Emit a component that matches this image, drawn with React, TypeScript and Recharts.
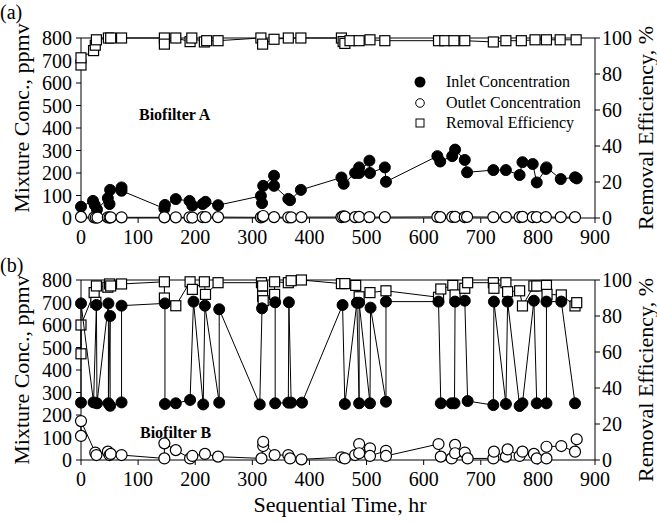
import React from "react";
import {
  ScatterChart,
  Scatter,
  XAxis,
  YAxis,
  ReferenceLine,
} from "recharts";

// sequential time (hr) / value pairs
const inletA = [
  { t: 0, v: 50 }, { t: 21, v: 76 }, { t: 24, v: 58 }, { t: 28, v: 38 },
  { t: 47, v: 88 }, { t: 50, v: 62 }, { t: 51, v: 125 }, { t: 71, v: 136 },
  { t: 71, v: 121 }, { t: 146, v: 42 }, { t: 147, v: 58 }, { t: 166, v: 84 },
  { t: 190, v: 76 }, { t: 195, v: 55 }, { t: 213, v: 62 }, { t: 218, v: 72 },
  { t: 240, v: 57 }, { t: 315, v: 98 }, { t: 317, v: 66 }, { t: 319, v: 143 },
  { t: 338, v: 188 }, { t: 338, v: 143 }, { t: 363, v: 85 }, { t: 366, v: 79 },
  { t: 385, v: 125 }, { t: 456, v: 180 }, { t: 460, v: 152 }, { t: 480, v: 200 },
  { t: 487, v: 225 }, { t: 487, v: 200 }, { t: 505, v: 255 }, { t: 506, v: 200 },
  { t: 532, v: 225 }, { t: 534, v: 161 }, { t: 624, v: 275 }, { t: 629, v: 251 },
  { t: 650, v: 275 }, { t: 655, v: 304 }, { t: 672, v: 258 }, { t: 676, v: 203 },
  { t: 722, v: 213 }, { t: 744, v: 213 }, { t: 768, v: 191 }, { t: 773, v: 248 },
  { t: 791, v: 240 }, { t: 798, v: 158 }, { t: 814, v: 218 }, { t: 815, v: 225 },
  { t: 840, v: 173 }, { t: 865, v: 181 }, { t: 868, v: 176 },
];

const outletA = [
  { t: 0, v: 5 }, { t: 23, v: 3 }, { t: 26, v: 2 }, { t: 29, v: 2 },
  { t: 47, v: 3 }, { t: 50, v: 2 }, { t: 52, v: 3 }, { t: 71, v: 3 },
  { t: 146, v: 3 }, { t: 166, v: 3 }, { t: 190, v: 3 }, { t: 195, v: 2 },
  { t: 213, v: 4 }, { t: 218, v: 4 }, { t: 240, v: 4 }, { t: 315, v: 3 },
  { t: 318, v: 6 }, { t: 319, v: 9 }, { t: 338, v: 4 }, { t: 363, v: 3 },
  { t: 368, v: 3 }, { t: 386, v: 4 }, { t: 456, v: 4 }, { t: 459, v: 7 },
  { t: 462, v: 6 }, { t: 480, v: 4 }, { t: 487, v: 5 }, { t: 505, v: 4 },
  { t: 532, v: 4 }, { t: 624, v: 5 }, { t: 629, v: 4 }, { t: 650, v: 5 },
  { t: 655, v: 5 }, { t: 672, v: 4 }, { t: 676, v: 5 }, { t: 722, v: 4 },
  { t: 744, v: 4 }, { t: 768, v: 4 }, { t: 773, v: 5 }, { t: 791, v: 4 },
  { t: 798, v: 4 }, { t: 814, v: 4 }, { t: 840, v: 4 }, { t: 865, v: 4 },
];

const removalA = [
  { t: 0, v: 85 }, { t: 0, v: 89 }, { t: 22, v: 93 }, { t: 25, v: 96 },
  { t: 27, v: 99 }, { t: 48, v: 100 }, { t: 52, v: 100 }, { t: 71, v: 100 },
  { t: 146, v: 100 }, { t: 146, v: 96.6 }, { t: 166, v: 100 }, { t: 191, v: 98 },
  { t: 194, v: 100 }, { t: 216, v: 97.8 }, { t: 220, v: 98.5 }, { t: 240, v: 98.5 },
  { t: 315, v: 100 }, { t: 318, v: 96.6 }, { t: 338, v: 99.3 }, { t: 363, v: 100 },
  { t: 385, v: 100 }, { t: 456, v: 100 }, { t: 459, v: 98 }, { t: 462, v: 97 },
  { t: 471, v: 98.5 }, { t: 487, v: 98.5 }, { t: 506, v: 99 }, { t: 532, v: 98.5 },
  { t: 626, v: 98.5 }, { t: 637, v: 98.5 }, { t: 653, v: 98.5 }, { t: 672, v: 98.5 },
  { t: 722, v: 97.8 }, { t: 744, v: 98.5 }, { t: 771, v: 98.5 }, { t: 795, v: 99 },
  { t: 815, v: 99 }, { t: 839, v: 99 }, { t: 867, v: 99 },
];

const inletB = [
  { t: 0, v: 255 }, { t: 0, v: 696 }, { t: 22, v: 256 }, { t: 27, v: 689 },
  { t: 28, v: 252 }, { t: 48, v: 696 }, { t: 48, v: 252 }, { t: 51, v: 640 },
  { t: 51, v: 241 }, { t: 71, v: 256 }, { t: 71, v: 686 }, { t: 147, v: 696 },
  { t: 147, v: 249 }, { t: 166, v: 252 }, { t: 191, v: 267 }, { t: 197, v: 704 },
  { t: 214, v: 247 }, { t: 217, v: 686 }, { t: 242, v: 255 }, { t: 242, v: 670 },
  { t: 313, v: 247 }, { t: 317, v: 674 }, { t: 340, v: 701 }, { t: 340, v: 252 },
  { t: 363, v: 255 }, { t: 364, v: 701 }, { t: 368, v: 255 }, { t: 387, v: 255 },
  { t: 458, v: 689 }, { t: 462, v: 249 }, { t: 483, v: 699 }, { t: 487, v: 252 },
  { t: 487, v: 699 }, { t: 506, v: 252 }, { t: 507, v: 677 }, { t: 534, v: 259 },
  { t: 534, v: 704 }, { t: 626, v: 704 }, { t: 630, v: 252 }, { t: 649, v: 252 },
  { t: 654, v: 252 }, { t: 655, v: 704 }, { t: 672, v: 708 }, { t: 677, v: 262 },
  { t: 722, v: 244 }, { t: 723, v: 704 }, { t: 744, v: 249 }, { t: 747, v: 704 },
  { t: 768, v: 240 }, { t: 773, v: 252 }, { t: 793, v: 708 }, { t: 798, v: 252 },
  { t: 815, v: 252 }, { t: 815, v: 704 }, { t: 841, v: 704 }, { t: 865, v: 252 },
];

const outletB = [
  { t: 0, v: 107 }, { t: 0, v: 173 }, { t: 25, v: 33 }, { t: 27, v: 22 },
  { t: 47, v: 37 }, { t: 50, v: 22 }, { t: 52, v: 27 }, { t: 71, v: 22 },
  { t: 146, v: 7 }, { t: 146, v: 74 }, { t: 166, v: 44 }, { t: 191, v: 7 },
  { t: 195, v: 18 }, { t: 217, v: 27 }, { t: 240, v: 15 }, { t: 316, v: 7 },
  { t: 319, v: 62 }, { t: 319, v: 81 }, { t: 339, v: 22 }, { t: 363, v: 22 },
  { t: 366, v: 7 }, { t: 386, v: 3 }, { t: 456, v: 12 }, { t: 462, v: 7 },
  { t: 480, v: 22 }, { t: 487, v: 71 }, { t: 487, v: 30 }, { t: 506, v: 52 },
  { t: 506, v: 18 }, { t: 534, v: 41 }, { t: 534, v: 18 }, { t: 626, v: 71 },
  { t: 630, v: 15 }, { t: 649, v: 7 }, { t: 655, v: 67 }, { t: 655, v: 30 },
  { t: 672, v: 33 }, { t: 677, v: 7 }, { t: 722, v: 7 }, { t: 723, v: 37 },
  { t: 744, v: 15 }, { t: 747, v: 47 }, { t: 768, v: 18 }, { t: 773, v: 37 },
  { t: 793, v: 27 }, { t: 798, v: 7 }, { t: 815, v: 7 }, { t: 815, v: 59 },
  { t: 841, v: 62 }, { t: 865, v: 37 }, { t: 868, v: 92 },
];

const removalB = [
  { t: 0, v: 59 }, { t: 0, v: 75 }, { t: 23, v: 93 }, { t: 26, v: 87.6 },
  { t: 27, v: 96.7 }, { t: 47, v: 96 }, { t: 50, v: 97.8 }, { t: 52, v: 96.7 },
  { t: 71, v: 97.8 }, { t: 146, v: 99 }, { t: 146, v: 90 }, { t: 166, v: 85.7 },
  { t: 191, v: 99 }, { t: 195, v: 94.8 }, { t: 216, v: 99 }, { t: 218, v: 92 },
  { t: 240, v: 98.5 }, { t: 316, v: 98.5 }, { t: 318, v: 96.7 }, { t: 318, v: 91 },
  { t: 319, v: 88.5 }, { t: 339, v: 92 }, { t: 339, v: 99 }, { t: 363, v: 98.5 },
  { t: 368, v: 99.6 }, { t: 386, v: 100 }, { t: 456, v: 98 }, { t: 462, v: 98 },
  { t: 481, v: 97 }, { t: 487, v: 90.7 }, { t: 506, v: 93 }, { t: 534, v: 94 },
  { t: 626, v: 90.4 }, { t: 630, v: 95 }, { t: 651, v: 97 }, { t: 655, v: 91.7 },
  { t: 672, v: 95.4 }, { t: 677, v: 98.5 }, { t: 722, v: 98.5 }, { t: 723, v: 95.4 },
  { t: 744, v: 98.5 }, { t: 747, v: 93.5 }, { t: 768, v: 94 }, { t: 773, v: 85.6 },
  { t: 793, v: 96.7 }, { t: 798, v: 96.7 }, { t: 815, v: 97 }, { t: 816, v: 92 },
  { t: 841, v: 91.7 }, { t: 865, v: 85.6 }, { t: 868, v: 87.4 },
];

const timeTicks = [0, 100, 200, 300, 400, 500, 600, 700, 800, 900];
const concTicks = [0, 100, 200, 300, 400, 500, 600, 700, 800];
const effTicks = [0, 20, 40, 60, 80, 100];

const FONT = "Liberation Serif, Times New Roman, Times, serif";
const tickStyle = { fill: "#000", fontSize: 20, fontFamily: FONT };
const lineStyle = { stroke: "#000", strokeWidth: 1 };

const FilledDot = (p: any) => (
  <circle cx={p.cx} cy={p.cy} r={5.5} fill="#000" stroke="#000" strokeWidth={1} />
);
const OpenDot = (p: any) => (
  <circle cx={p.cx} cy={p.cy} r={5.5} fill="#fff" stroke="#000" strokeWidth={1.2} />
);
const OpenSquare = (p: any) => (
  <rect x={p.cx - 5} y={p.cy - 5} width={10} height={10} fill="#fff" stroke="#000" strokeWidth={1.2} />
);

type PanelProps = {
  top: number;
  marginTop: number;
  inlet: { t: number; v: number }[];
  outlet: { t: number; v: number }[];
  removal: { t: number; v: number }[];
};

function Panel({ top, marginTop, inlet, outlet, removal }: PanelProps) {
  return (
    <div style={{ position: "absolute", left: 0, top }}>
      <ScatterChart
        width={657}
        height={250}
        margin={{ top: marginTop, right: 7, bottom: 250 - marginTop - 180 - 30, left: 11 }}
        style={{ fontFamily: FONT }}
      >
        <XAxis
          type="number"
          dataKey="t"
          domain={[0, 900]}
          ticks={timeTicks}
          interval={0}
          height={30}
          tick={tickStyle}
          tickSize={5}
          tickMargin={7}
          axisLine={lineStyle}
          tickLine={lineStyle}
        />
        <YAxis
          yAxisId="left"
          type="number"
          dataKey="v"
          domain={[0, 800]}
          ticks={concTicks}
          interval={0}
          width={70}
          tick={tickStyle}
          tickSize={5}
          tickMargin={4}
          axisLine={lineStyle}
          tickLine={lineStyle}
        />
        <YAxis
          yAxisId="right"
          orientation="right"
          type="number"
          dataKey="v"
          domain={[0, 100]}
          ticks={effTicks}
          interval={0}
          width={55}
          tick={tickStyle}
          tickSize={5}
          tickMargin={2}
          axisLine={lineStyle}
          tickLine={lineStyle}
        />
        <ReferenceLine yAxisId="left" y={800} stroke="#000" strokeWidth={1} />
        <Scatter
          yAxisId="right"
          data={removal}
          shape={OpenSquare}
          line={lineStyle}
          lineType="joint"
          isAnimationActive={false}
        />
        <Scatter
          yAxisId="left"
          data={inlet}
          shape={FilledDot}
          line={lineStyle}
          lineType="joint"
          isAnimationActive={false}
        />
        <Scatter
          yAxisId="left"
          data={outlet}
          shape={OpenDot}
          line={lineStyle}
          lineType="joint"
          isAnimationActive={false}
        />
      </ScatterChart>
    </div>
  );
}

function VText({ cx, cy, text }: { cx: number; cy: number; text: string }) {
  const w = 240;
  const h = 26;
  return (
    <div
      style={{
        position: "absolute",
        left: cx - w / 2,
        top: cy - h / 2,
        width: w,
        height: h,
        lineHeight: h + "px",
        textAlign: "center",
        fontSize: 22,
        fontFamily: FONT,
        transform: "rotate(-90deg)",
        whiteSpace: "nowrap",
      }}
    >
      {text}
    </div>
  );
}

function Txt({ x, y, text, size, bold }: { x: number; y: number; text: string; size: number; bold?: boolean }) {
  return (
    <div
      style={{
        position: "absolute",
        left: x,
        top: y - size * 0.6,
        fontSize: size,
        lineHeight: size * 1.2 + "px",
        fontFamily: FONT,
        fontWeight: bold ? "bold" : "normal",
        whiteSpace: "nowrap",
      }}
    >
      {text}
    </div>
  );
}

const legendRows = [
  { label: "Inlet Concentration", kind: "filled" },
  { label: "Outlet Concentration", kind: "open" },
  { label: "Removal Efficiency", kind: "square" },
];

export default function App() {
  return (
    <div style={{ position: "absolute", left: 0, top: 0, width: 657, height: 524, background: "#fff" }}>
      <Panel top={0} marginTop={38} inlet={inletA} outlet={outletA} removal={removalA} />
      <Panel top={250} marginTop={30} inlet={inletB} outlet={outletB} removal={removalB} />

      <Txt x={0} y={12} text="(a)" size={20} />
      <Txt x={0} y={265} text="(b)" size={20} />
      <Txt x={139} y={115} text="Biofilter A" size={16} bold />
      <Txt x={140} y={433} text="Biofilter B" size={16} bold />

      {legendRows.map((r, i) => (
        <div key={r.label}>
          <svg
            style={{ position: "absolute", left: 413, top: 75 + i * 20.5 }}
            width={14}
            height={14}
          >
            {r.kind === "filled" && <circle cx={7} cy={7} r={5.5} fill="#000" />}
            {r.kind === "open" && <circle cx={7} cy={7} r={4.3} fill="#fff" stroke="#000" strokeWidth={1} />}
            {r.kind === "square" && <rect x={3} y={3} width={8} height={8} fill="#fff" stroke="#000" strokeWidth={1} />}
          </svg>
          <Txt x={446} y={82 + i * 20.5} text={r.label} size={16} />
        </div>
      ))}

      <VText cx={22} cy={118} text="Mixture Conc., ppmv" />
      <VText cx={22} cy={370} text="Mixture Conc., ppmv" />
      <VText cx={646} cy={128} text="Removal Efficiency, %" />
      <VText cx={646} cy={380} text="Removal Efficiency, %" />

      <div
        style={{
          position: "absolute",
          left: 0,
          width: 680,
          top: 492,
          textAlign: "center",
          fontSize: 22,
          fontFamily: FONT,
        }}
      >
        Sequential Time, hr
      </div>
    </div>
  );
}
